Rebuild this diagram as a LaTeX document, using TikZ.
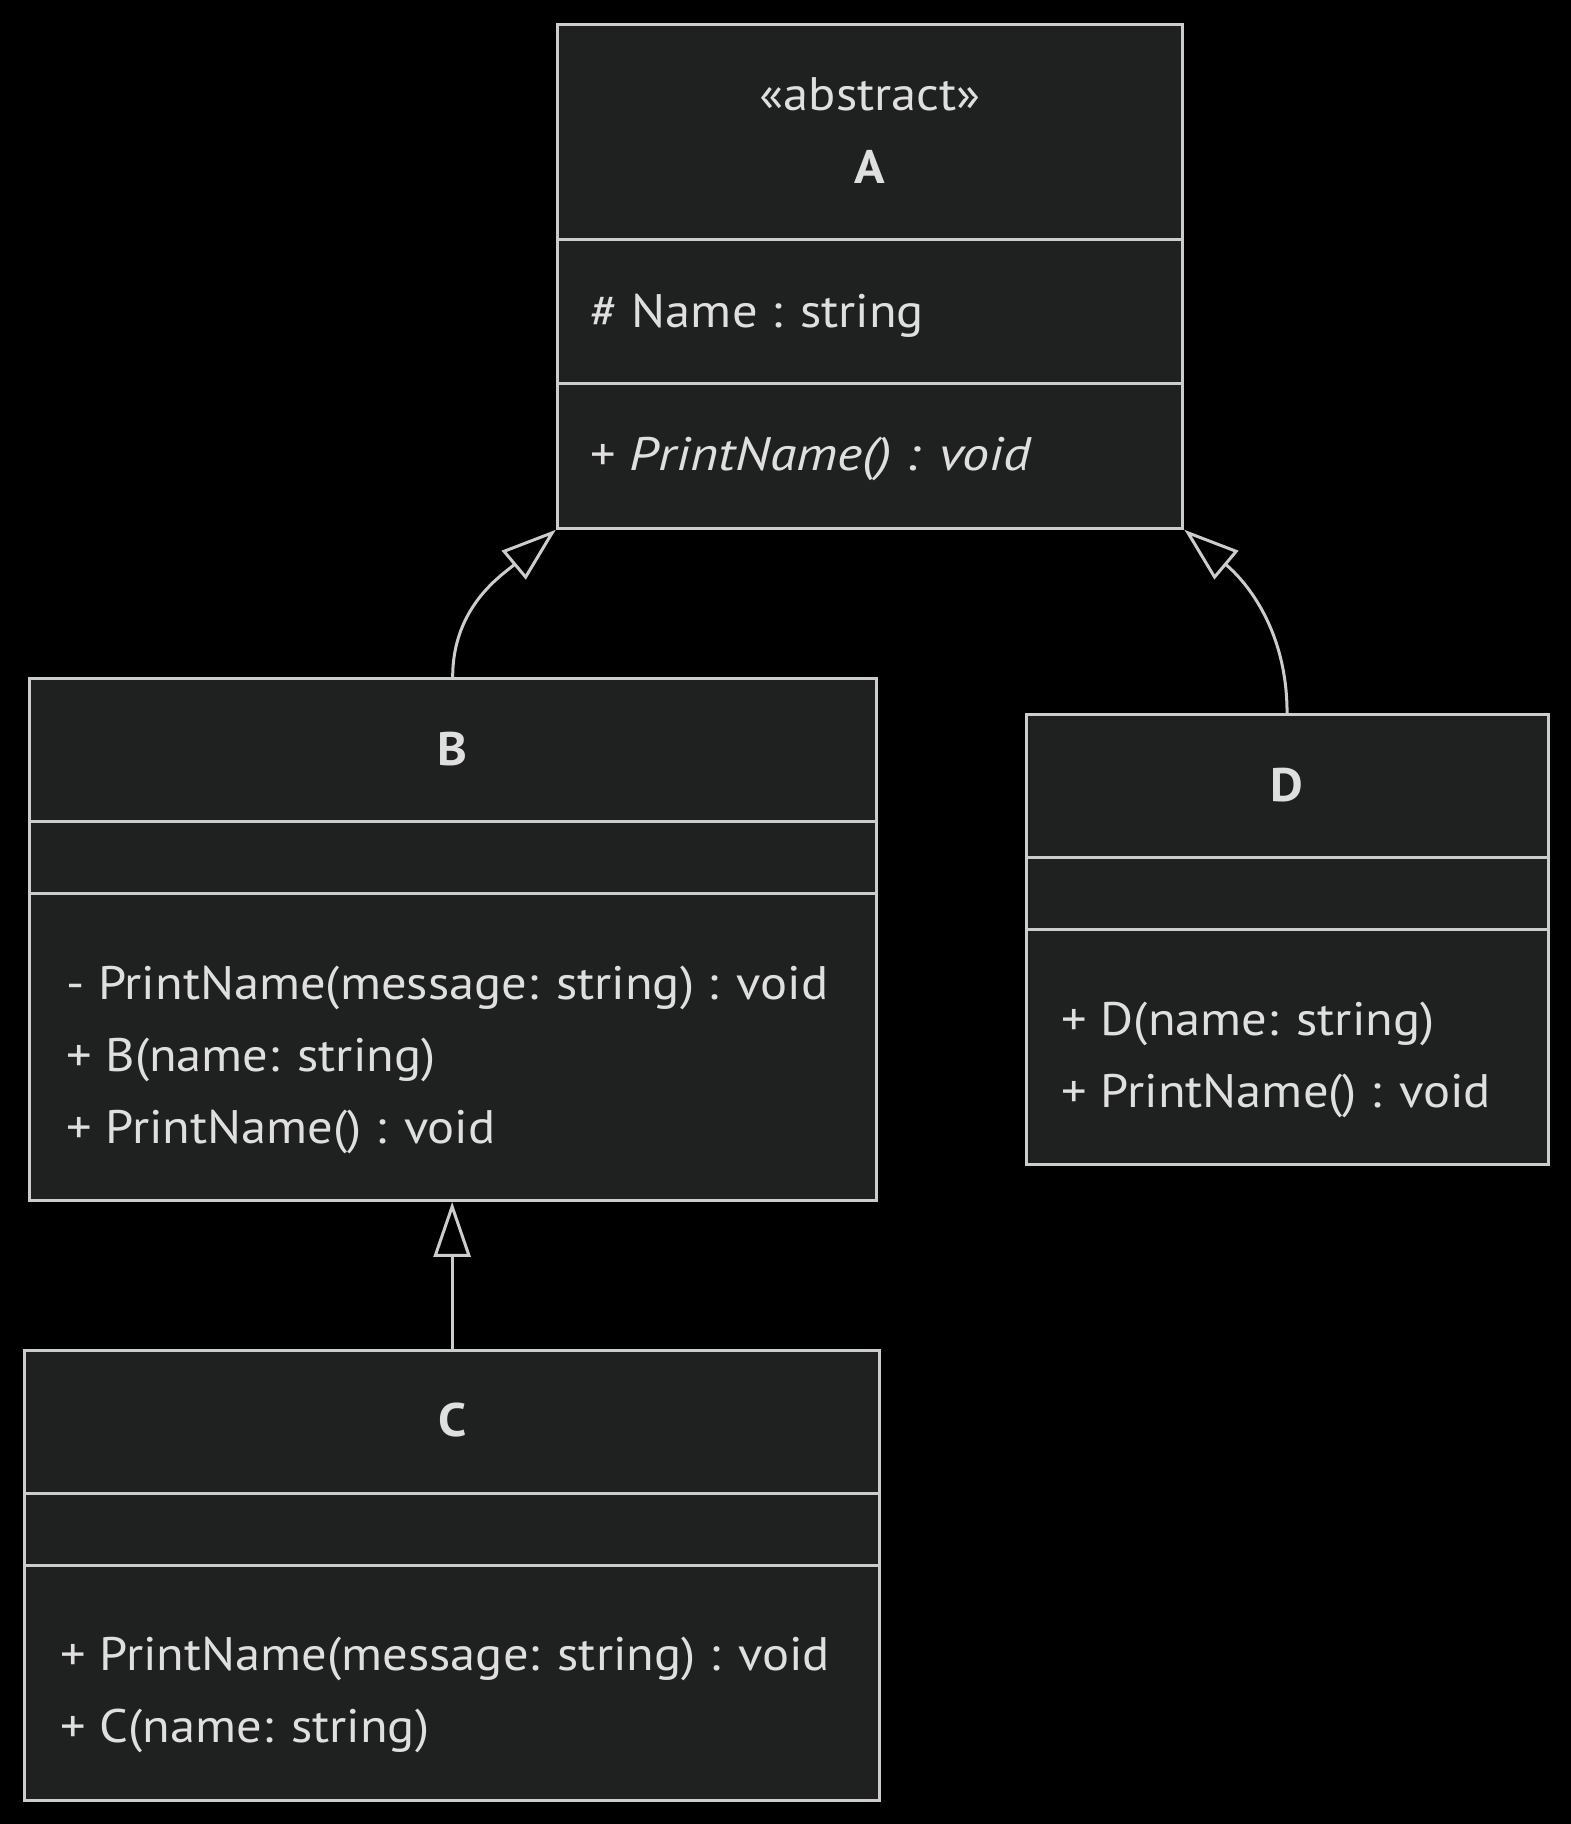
\documentclass[tikz,border=0pt]{standalone}
\usepackage{fontspec}
\setmainfont{PT Sans}[FakeStretch=1.075]
\newfontfamily\wideit{PT Sans}[FakeStretch=1.15]
\usetikzlibrary{arrows.meta, positioning}
\definecolor{boxfill}{HTML}{1F2020}
\definecolor{boxline}{HTML}{CCCCCC}
\definecolor{boxtext}{HTML}{E0DFDF}
\def\big{\fontsize{47}{56}\selectfont}
\tikzstyle{classbox} = [rectangle, draw=boxline, fill=boxfill, line width=3pt, inner sep=0pt, anchor=north west]
\tikzstyle{sep} = [draw=boxline, line width=3pt]
\tikzstyle{member} = [anchor=base west, inner sep=0pt, text=boxtext, font=\big]
\tikzstyle{title} = [anchor=base, inner sep=0pt, text=boxtext, font=\big]
\tikzstyle{inherit} = [-{Triangle[open, length=55pt, width=37pt]}, draw=boxline, line width=3pt]
\begin{document}
\begin{tikzpicture}[x=1pt, y=-1pt]

  \fill[black] (0,0) rectangle (1571,1824);

  % abstract base class
  \node (A) [classbox, minimum width=625.6pt, minimum height=503.5pt] at (555.8,23.3) {};
  \draw [sep] (A.west |- 0,239.5) -- (A.east |- 0,239.5);
  \draw [sep] (A.west |- 0,383.7) -- (A.east |- 0,383.7);
  \node (Astereo) [title] at (A.north |- 0,110) {«abstract»};
  \node (Aname) [title, font=\big\bfseries] at (A.north |- 0,183) {A};
  \node (Aattr) [member] at (590.7,327) {\# Name : string};
  \node (Aop) [member] at (590.7,470) {+ {\wideit\itshape PrintName() : void}};

  % B
  \node (B) [classbox, minimum width=846.6pt, minimum height=522.1pt] at (27.9,676.8) {};
  \draw [sep] (B.west |- 0,821) -- (B.east |- 0,821);
  \draw [sep] (B.west |- 0,893) -- (B.east |- 0,893);
  \node (Bname) [title, font=\big\bfseries] at (B.north |- 0,765) {B};
  \node (Bop1) [member] at (66.3,999) {- PrintName(message: string) : void};
  \node (Bop2) [member] at (66.3,1071) {+ B(name: string)};
  \node (Bop3) [member] at (66.3,1143) {+ PrintName() : void};

  % C
  \node (C) [classbox, minimum width=854.7pt, minimum height=450pt] at (23.3,1348.9) {};
  \draw [sep] (C.west |- 0,1493.1) -- (C.east |- 0,1493.1);
  \draw [sep] (C.west |- 0,1565.2) -- (C.east |- 0,1565.2);
  \node (Cname) [title, font=\big\bfseries] at (C.north |- 0,1436) {C};
  \node (Cop1) [member] at (60.5,1670) {+ PrintName(message: string) : void};
  \node (Cop2) [member] at (60.5,1742) {+ C(name: string)};

  % D
  \node (D) [classbox, minimum width=522.1pt, minimum height=450pt] at (1024.5,712.8) {};
  \draw [sep] (D.west |- 0,857) -- (D.east |- 0,857);
  \draw [sep] (D.west |- 0,929.1) -- (D.east |- 0,929.1);
  \node (Dname) [title, font=\big\bfseries] at (D.north |- 0,801) {D};
  \node (Dop1) [member] at (1061.7,1035) {+ D(name: string)};
  \node (Dop2) [member] at (1061.7,1107) {+ PrintName() : void};

  \draw [inherit] (B.north) to[out=90, in=-140] (A.south west);
  \draw [inherit] (D.north) to[out=90, in=-40] (A.south east);
  \draw [inherit] (C.north) -- (C.north |- B.south);

\end{tikzpicture}
\end{document}
